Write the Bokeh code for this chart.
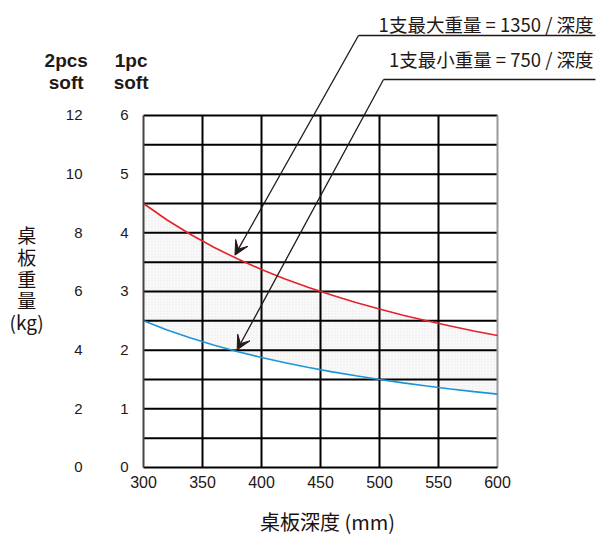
from bokeh.plotting import figure
from bokeh.models import (Range1d, LinearAxis, FixedTicker, Label, Arrow,
                          VeeHead, ColumnDataSource)
from bokeh.embed import file_html
from bokeh.resources import INLINE

# ---- data ----
depth = [300, 320, 340, 360, 380, 400, 420, 440, 460, 480, 500, 520, 540, 560, 580, 600]
max_weight_1pc = [4.500, 4.219, 3.971, 3.750, 3.553, 3.375, 3.214, 3.068,
                  2.935, 2.813, 2.700, 2.596, 2.500, 2.411, 2.328, 2.250]
min_weight_1pc = [2.500, 2.344, 2.206, 2.083, 1.974, 1.875, 1.786, 1.705,
                  1.630, 1.563, 1.500, 1.442, 1.389, 1.339, 1.293, 1.250]
x_ticks = [300, 350, 400, 450, 500, 550, 600]
y_ticks_1pc = [0, 1, 2, 3, 4, 5, 6]
y_ticks_2pcs = [0, 2, 4, 6, 8, 10, 12]
y_grid_lines = [0.5, 1, 1.5, 2, 2.5, 3, 3.5, 4, 4.5, 5, 5.5, 6]
x_grid_lines = [350, 400, 450, 500, 550]
max_label = "1支最大重量 = 1350 / 深度"
min_label = "1支最小重量 = 750 / 深度"
x_title = "桌板深度 (mm)"
y_title_lines = ["桌", "板", "重", "量", "(kg)"]
headers = [("2pcs", "soft"), ("1pc", "soft")]

INK = "#231815"
RED = "#e6212a"
BLUE = "#1a96d8"
NUM_FONT = "Liberation Sans"
CJK_FONT = "Noto Sans CJK JP"

X0, X1 = x_ticks[0], x_ticks[-1]
Y0, Y1 = y_ticks_1pc[0], y_ticks_1pc[-1]

W, H = 612, 537
# data window chosen so the chart area sits where the reference has it
xr = Range1d(178.81, 697.46)
yr = Range1d(-1.1932, 7.9602)

src = ColumnDataSource(dict(x=depth, hi=max_weight_1pc, lo=min_weight_1pc))

p = figure(width=W, height=H, x_range=xr, y_range=yr,
           x_axis_location=None, y_axis_location=None,
           min_border=0, min_border_left=0, min_border_right=0,
           min_border_top=0, min_border_bottom=0,
           output_backend="svg", toolbar_location=None)
p.extra_y_ranges = {"two": Range1d(yr.start * 2, yr.end * 2)}
p.background_fill_color = "white"
p.border_fill_color = "white"
p.outline_line_color = None
p.xgrid.visible = False
p.ygrid.visible = False

# shaded region between curves
p.varea(x="x", y1="lo", y2="hi", source=src, fill_color="#f9f9f9",
        hatch_pattern=".", hatch_scale=3, hatch_color="#c4c4c4", hatch_alpha=0.3)

# grid lines
p.segment(x0=x_grid_lines, y0=[Y0] * len(x_grid_lines),
          x1=x_grid_lines, y1=[Y1] * len(x_grid_lines),
          line_color="black", line_width=2)
p.segment(x0=[X0] * len(y_grid_lines), y0=y_grid_lines,
          x1=[X1] * len(y_grid_lines), y1=y_grid_lines,
          line_color="black", line_width=2)
# right border (grey)
p.segment(x0=[X1], y0=[Y0], x1=[X1], y1=[Y1], line_color="#9a9a9a", line_width=2)

# curves
p.line(x="x", y="hi", source=src, line_color=RED, line_width=1.6)
p.line(x="x", y="lo", source=src, line_color=BLUE, line_width=1.6)


def style_axis(ax, size):
    ax.major_tick_out = 0
    ax.major_tick_in = 0
    ax.minor_tick_out = 0
    ax.minor_tick_in = 0
    ax.major_label_text_font = NUM_FONT
    ax.major_label_text_font_size = size
    ax.major_label_text_color = INK


# axes
xa = LinearAxis(ticker=FixedTicker(ticks=x_ticks), fixed_location=Y0, bounds=(X0, X1))
style_axis(xa, "16px")
xa.major_label_standoff = 9
xa.axis_line_color = "black"
xa.axis_line_width = 2
p.add_layout(xa, "below")

ya = LinearAxis(ticker=FixedTicker(ticks=y_ticks_1pc), fixed_location=X0, bounds=(Y0, Y1))
style_axis(ya, "15px")
ya.major_label_standoff = 15
ya.axis_line_color = "#444444"
ya.axis_line_width = 2
p.add_layout(ya, "left")

ya2 = LinearAxis(y_range_name="two", ticker=FixedTicker(ticks=y_ticks_2pcs),
                 fixed_location=X0, bounds=(y_ticks_2pcs[0], y_ticks_2pcs[-1]))
style_axis(ya2, "15px")
ya2.major_label_standoff = 61
ya2.axis_line_color = None
p.add_layout(ya2, "left")

# column headers
for (top, bottom), xx in zip(headers, [234.5, 289.5]):
    for txt, yy in [(top, 6.94), (bottom, 6.56)]:
        p.add_layout(Label(x=xx, y=yy, text=txt, text_align="center",
                           text_baseline="alphabetic", text_font=NUM_FONT,
                           text_font_size="19px", text_font_style="bold",
                           text_color=INK))

# axis titles
p.add_layout(Label(x=456, y=-0.92, text=x_title, text_align="center",
                   text_baseline="middle", text_font=CJK_FONT,
                   text_font_size="20px", text_color="#1a1210"))
y_top = 4.20
for i, t in enumerate(y_title_lines):
    p.add_layout(Label(x=201, y=y_top - i * 0.37, text=t, text_align="center",
                       text_baseline="top", text_font=CJK_FONT,
                       text_font_size="19px", text_color="#1a1210"))

# annotations
p.add_layout(Label(x=681.4, y=7.568, text=max_label, text_align="right",
                   text_baseline="middle", text_font=CJK_FONT,
                   text_font_size="18.5px", text_color=INK))
p.add_layout(Label(x=681.4, y=6.955, text=min_label, text_align="right",
                   text_baseline="middle", text_font=CJK_FONT,
                   text_font_size="18.5px", text_color=INK))

for (tx, ty, cx, cy, ex) in [(377.5, 3.62, 482.2, 7.364, 683.0),
                             (379.4, 2.006, 503.4, 6.614, 683.0)]:
    p.add_layout(Arrow(x_start=cx, y_start=cy, x_end=ex, y_end=cy,
                       end=None, line_color=INK, line_width=1.3))
    p.add_layout(Arrow(x_start=cx, y_start=cy, x_end=tx, y_end=ty,
                       end=VeeHead(size=14, fill_color=INK, line_color=INK),
                       line_color=INK, line_width=1.3))

open("out.html", "w").write(file_html(p, INLINE))
